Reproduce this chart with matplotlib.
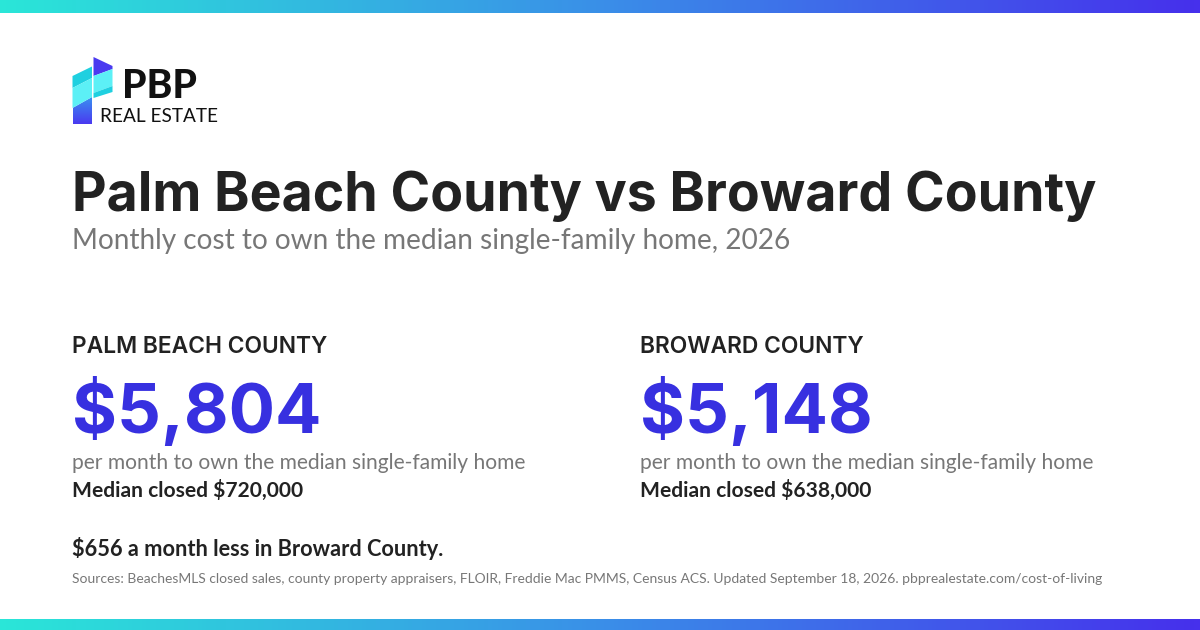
import matplotlib
matplotlib.use("Agg")
import matplotlib.pyplot as plt
import numpy as np
from matplotlib.colors import LinearSegmentedColormap
from matplotlib.patches import Polygon

W, H = 1200, 630

TITLE = "Palm Beach County vs Broward County"
SUBTITLE = "Monthly cost to own the median single-family home, 2026"
COUNTIES = ["PALM BEACH COUNTY", "BROWARD COUNTY"]
MONTHLY_COST = [5804, 5148]
MEDIAN_CLOSED = [720000, 638000]
COST_NOTE = "per month to own the median single-family home"
DIFF_NOTE = "$656 a month less in Broward County."
SOURCES = ("Sources: BeachesMLS closed sales, county property appraisers, FLOIR, "
           "Freddie Mac PMMS, Census ACS. Updated September 18, 2026. "
           "pbprealestate.com/cost-of-living")

DARK = "#222222"
GREY = "#777777"
BLUE = "#3730e0"
band = LinearSegmentedColormap.from_list("band", ["#2ae6d8", "#3a8fe8", "#4630ec"])
logo_fade = LinearSegmentedColormap.from_list("logo_fade", ["#3a90f0", "#4a3af0"])

fig = plt.figure(figsize=(W / 100, H / 100), dpi=100)
ax = fig.add_axes([0, 0, 1, 1])
ax.axis("off")

grad = np.linspace(0, 1, 600).reshape(1, -1)
ax.imshow(grad, cmap=band, extent=(0, W, 13, 0), aspect="auto")
ax.imshow(grad, cmap=band, extent=(0, W, 630, 619), aspect="auto")

# logo, left block then right block
ax.add_patch(Polygon([(72.5, 76), (92, 66.5), (92, 78), (72.5, 88)], color="#1fd0e0", lw=0))
ax.add_patch(Polygon([(72.5, 88), (92, 78), (92, 97), (72.5, 108)], color="#5cf0f6", lw=0))
fade = ax.imshow(np.linspace(0, 1, 40).reshape(-1, 1), cmap=logo_fade,
                 extent=(72.5, 92, 124, 97), aspect="auto")
fade.set_clip_path(Polygon([(72.5, 108), (92, 97), (92, 124), (72.5, 124)], transform=ax.transData))
ax.add_patch(Polygon([(93.5, 57), (112.5, 66), (112.5, 69), (93.5, 76)], color="#4a3af0", lw=0))
ax.add_patch(Polygon([(93.5, 76), (112.5, 69), (112.5, 86), (93.5, 93)], color="#5cf0f6", lw=0))
ax.add_patch(Polygon([(93.5, 93), (112.5, 86), (112.5, 92), (93.5, 98)], color="#1fd0e0", lw=0))
ax.set_xlim(0, W)
ax.set_ylim(H, 0)

ax.text(122, 86, "PBP", family="Lato", weight="black", fontsize=28.2, color="#111111", va="center")
ax.text(100, 116, "REAL ESTATE", family="Lato", fontsize=13.7, color="#111111", va="center")

ax.text(72, 196, TITLE, family="Inter", weight="bold", fontsize=38.6, color=DARK, va="center")
ax.text(72, 241, SUBTITLE, family="Lato", fontsize=20.15, color=GREY, va="center")

for x, county, cost, closed in zip([72, 640], COUNTIES, MONTHLY_COST, MEDIAN_CLOSED):
    ax.text(x, 347, county, family="Inter", weight="semibold", fontsize=16.45, color=DARK, va="center")
    ax.text(x, 412, f"${cost:,}", family="Inter", weight="bold", fontsize=49.5, color=BLUE, va="center")
    ax.text(x, 463, COST_NOTE, family="Lato", fontsize=15.1, color=GREY, va="center")
    ax.text(x, 490, f"Median closed ${closed:,}", family="Lato", weight="bold", fontsize=15.15, color=DARK, va="center")

ax.text(72, 549, DIFF_NOTE, family="Lato", weight="bold", fontsize=15.7, color=DARK, va="center")
ax.text(72, 579, SOURCES, family="Lato", fontsize=9.96, color=GREY, va="center")

fig.savefig("out.png", dpi=100)
